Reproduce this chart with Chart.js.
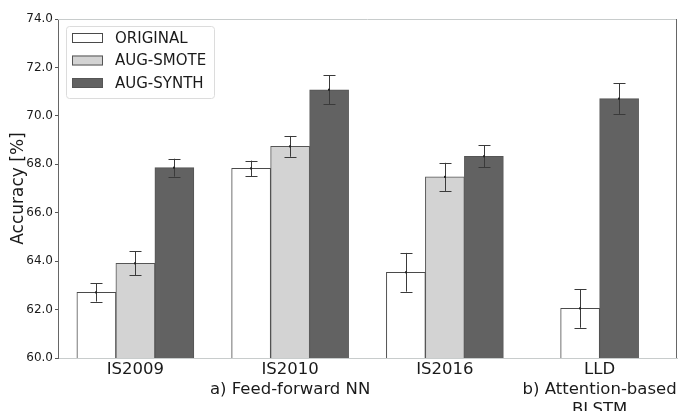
<!DOCTYPE html>
<html>
<head>
<meta charset="utf-8">
<script src="https://cdn.jsdelivr.net/npm/chart.js@4"></script>
<style>
  html, body { margin: 0; padding: 0; background: #fff; overflow: hidden; }
  #wrap { width: 680px; height: 411px; }
</style>
</head>
<body>
<div id="wrap"><canvas id="mychart"></canvas></div>
<script>
const ctx = document.getElementById("mychart").getContext("2d");

const labels = [
  ["IS2009"],
  ["IS2010", "a) Feed-forward NN"],
  ["IS2016"],
  ["LLD", "b) Attention-based", "BLSTM"],
];

const original = [62.71, 67.83, 63.54, 62.05];
const originalErr = [0.38, 0.32, 0.8, 0.8];
const smote = [63.91, 68.74, 67.48, null];
const smoteErr = [0.5, 0.43, 0.58, null];
const synth = [67.86, 71.08, 68.33, 70.71];
const synthErr = [0.37, 0.59, 0.46, 0.63];

const yTicks = [60, 62, 64, 66, 68, 70, 72, 74];

const FONT = "'DejaVu Sans', sans-serif";

// error bars drawn on top of each bar
const errorBars = {
  id: "errorBars",
  afterDatasetsDraw(chart) {
    const c = chart.ctx;
    const y = chart.scales.y;
    c.save();
    c.strokeStyle = "#3a3a3a";
    c.lineWidth = 1;
    chart.data.datasets.forEach((ds, di) => {
      const meta = chart.getDatasetMeta(di);
      meta.data.forEach((bar, i) => {
        const v = ds.data[i];
        const e = ds.errors[i];
        if (v == null || e == null) return;
        const x = Math.round(bar.x) + 0.5;
        const top = y.getPixelForValue(v + e);
        const bot = y.getPixelForValue(v - e);
        c.beginPath();
        c.moveTo(x, top);
        c.lineTo(x, bot);
        c.moveTo(x - 6, Math.round(top) + 0.5);
        c.lineTo(x + 6, Math.round(top) + 0.5);
        c.moveTo(x - 6, Math.round(bot) + 0.5);
        c.lineTo(x + 6, Math.round(bot) + 0.5);
        c.stroke();
        c.fillStyle = "#222";
        c.fillRect(x - 1.5, y.getPixelForValue(v) - 1, 2, 2);
      });
    });
    c.restore();
  },
};

// top and right frame lines + legend box inside the plot
const frameAndLegend = {
  id: "frameAndLegend",
  afterDraw(chart) {
    const c = chart.ctx;
    const a = chart.chartArea;
    c.save();
    c.lineWidth = 1;
    c.strokeStyle = "#c8cccc";
    c.beginPath();
    c.moveTo(a.left, a.top + 0.5);
    c.lineTo(a.right, a.top + 0.5);
    c.stroke();
    c.strokeStyle = "#666";
    c.beginPath();
    c.moveTo(a.right - 0.5, a.top);
    c.lineTo(a.right - 0.5, a.bottom);
    c.stroke();

    // legend
    const lx = a.left + 8, ly = a.top + 7, lw = 148, lh = 72;
    c.strokeStyle = "#dcdcdc";
    c.fillStyle = "rgba(255,255,255,0.85)";
    c.beginPath();
    c.roundRect(lx + 0.5, ly + 0.5, lw, lh, 3);
    c.fill();
    c.stroke();
    c.font = "15px " + FONT;
    c.textBaseline = "middle";
    chart.data.datasets.forEach((ds, i) => {
      const cy = ly + 12 + i * 22.5;
      c.fillStyle = ds.backgroundColor;
      c.strokeStyle = ds.borderColor;
      c.fillRect(lx + 6, cy - 5, 31, 10);
      c.strokeRect(lx + 6.5, cy - 4.5, 30, 9);
      c.fillStyle = "#1a1a1a";
      c.fillText(ds.label, lx + 49, cy + 1);
    });
    c.restore();
  },
};

const data = {
  labels,
  datasets: [
    {
      label: "ORIGINAL",
      data: original,
      errors: originalErr,
      backgroundColor: "#ffffff",
      borderColor: "#4a4a4a",
      borderWidth: 1,
    },
    {
      label: "AUG-SMOTE",
      data: smote,
      errors: smoteErr,
      backgroundColor: "#d3d3d3",
      borderColor: "#555555",
      borderWidth: 1,
    },
    {
      label: "AUG-SYNTH",
      data: synth,
      errors: synthErr,
      backgroundColor: "#626262",
      borderColor: "#555555",
      borderWidth: 1,
    },
  ],
};

const config = {
  type: "bar",
  data: data,
  plugins: [errorBars, frameAndLegend],
  options: {
    responsive: true,
    maintainAspectRatio: false,
    animation: false,
    skipNull: true,
    barThickness: 39,
    layout: { padding: { top: 19, right: 3, left: 0, bottom: 0 } },
    plugins: {
      legend: { display: false },
      tooltip: { enabled: false },
    },
    scales: {
      x: {
        offset: true,
        grid: { display: false, drawTicks: false },
        border: { display: true, color: "#c8cccc", width: 1 },
        ticks: {
          autoSkip: false,
          maxRotation: 0,
          padding: 2,
          color: "#1a1a1a",
          font: { family: FONT, size: 16.5, lineHeight: 1.2 },
        },
        afterFit: (s) => {
          s.height = 53;
          s.paddingLeft = 0;
          s.paddingRight = 0;
        },
      },
      y: {
        min: 60,
        max: 74,
        afterBuildTicks: (s) => {
          s.ticks = yTicks.map((v) => ({ value: v }));
        },
        grid: { drawOnChartArea: false, drawTicks: true, tickLength: 3, color: "#555" },
        border: { display: true, color: "#666", width: 1 },
        ticks: {
          padding: 2,
          color: "#1a1a1a",
          font: { family: FONT, size: 12 },
          callback: (v) => v.toFixed(1),
        },
        title: {
          display: true,
          text: "Accuracy [%]",
          color: "#1a1a1a",
          font: { family: FONT, size: 17 },
          padding: { top: 8, bottom: 0 },
        },
        afterFit: (s) => {
          s.width = 58;
        },
      },
    },
  },
};

const myChart = new Chart(ctx, config);
</script>
</body>
</html>
